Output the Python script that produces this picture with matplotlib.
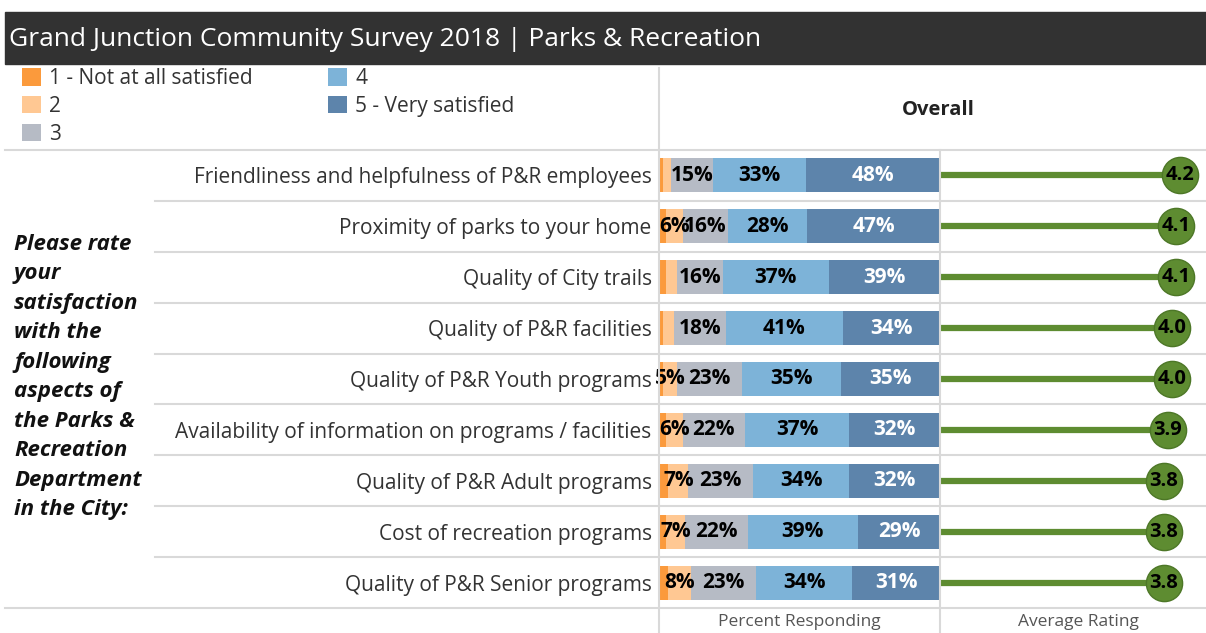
import matplotlib
matplotlib.use("Agg")
import matplotlib.pyplot as plt
from matplotlib.patches import Rectangle
from matplotlib.lines import Line2D

plt.rcParams['font.family'] = ['Open Sans', 'DejaVu Sans']

# data
items = [
    'Friendliness and helpfulness of P&R employees',
    'Proximity of parks to your home',
    'Quality of City trails',
    'Quality of P&R facilities',
    'Quality of P&R Youth programs',
    'Availability of information on programs / facilities',
    'Quality of P&R Adult programs',
    'Cost of recreation programs',
    'Quality of P&R Senior programs',
]
pct_1 = [1, 2, 2, 1, 1, 2, 3, 2, 3]
pct_2 = [3, 6, 4, 4, 5, 6, 7, 7, 8]
pct_3 = [15, 16, 16, 18, 23, 22, 23, 22, 23]
pct_4 = [33, 28, 37, 41, 35, 37, 34, 39, 34]
pct_5 = [48, 47, 39, 34, 35, 32, 32, 29, 31]
rating = [4.2, 4.1, 4.1, 4.0, 4.0, 3.9, 3.8, 3.8, 3.8]

legend_labels = ['1 - Not at all satisfied', '2', '3', '4', '5 - Very satisfied']
colors = ['#fb9a3c', '#ffc893', '#b6bbc5', '#7db3d8', '#5d84ab']
label_colors = ['black', 'black', 'black', 'black', 'white']

W, H = 1206, 633
fig = plt.figure(figsize=(W / 100, H / 100), dpi=100)


def fx(x):
    return x / W


def fy(y):
    return 1 - y / H


# title bar
fig.patches.append(Rectangle((fx(5), fy(64)), fx(1201), 52 / H, transform=fig.transFigure,
                             color='#323232', zorder=0))
fig.text(fx(9), fy(40), 'Grand Junction Community Survey 2018 | Parks & Recreation',
         color='white', fontsize=19, va='center', ha='left')

# grid lines of the table
grey = '#d9d9d9'
fig.add_artist(Line2D([fx(5), fx(1206)], [fy(150), fy(150)], color=grey, lw=1.5))
fig.add_artist(Line2D([fx(5), fx(1206)], [fy(608), fy(608)], color=grey, lw=1.5))
row_h = (608 - 150) / len(items)
for i in range(1, len(items)):
    yy = 150 + i * row_h
    fig.add_artist(Line2D([fx(155), fx(1206)], [fy(yy), fy(yy)], color=grey, lw=1.5))
fig.add_artist(Line2D([fx(659), fx(659)], [fy(68), fy(633)], color=grey, lw=1.5))
fig.add_artist(Line2D([fx(940), fx(940)], [fy(150), fy(633)], color=grey, lw=1.5))

# stacked bars (each row scaled to its total so the bar fills 100%)
ax = fig.add_axes([fx(660), fy(608), fx(280), 458 / H])
ypos = list(range(len(items)))
series = [pct_1, pct_2, pct_3, pct_4, pct_5]
totals = [sum(vals) for vals in zip(*series)]
left = [0] * len(items)
for vals, col, lab, tcol in zip(series, colors, legend_labels, label_colors):
    widths = [v / t * 100 for v, t in zip(vals, totals)]
    bars = ax.barh(ypos, widths, left=left, height=0.67, color=col, label=lab)
    for b, v in zip(bars, vals):
        if v >= 5:
            ax.text(b.get_x() + b.get_width() / 2, b.get_y() + b.get_height() / 2,
                    f'{v}%', ha='center', va='center', color=tcol,
                    fontsize=15, fontweight='bold')
    left = [l + w for l, w in zip(left, widths)]

ax.set_xlim(0, 100)
ax.set_ylim(len(items) - 0.5, -0.5)
ax.set_yticks(ypos)
ax.set_yticklabels(items, fontsize=15, color='#333333')
ax.tick_params(axis='y', length=0, pad=6)
ax.set_xticks([])
for s in ax.spines.values():
    s.set_visible(False)
ax.patch.set_alpha(0)

# average rating lollipops
ax2 = fig.add_axes([fx(940), fy(608), fx(266), 458 / H])
lo = -1.8
ax2.set_xlim(lo, 4.85)
ax2.set_ylim(len(items) - 0.5, -0.5)
green = '#5e8c31'
ax2.hlines(ypos, lo, rating, color=green, lw=4.5, zorder=2)
ax2.scatter(rating, ypos, s=680, color=green, edgecolor='#4d7727', linewidth=1, zorder=3)
for y, r in zip(ypos, rating):
    ax2.text(r, y, f'{r:.1f}', ha='center', va='center', fontsize=14.5,
             fontweight='bold', color='black', zorder=4)
ax2.axis('off')

# legend
fig.legend(handles=ax.containers, labels=legend_labels, ncol=2, loc='upper left',
           bbox_to_anchor=(fx(16), fy(62)), frameon=False, fontsize=15,
           handlelength=0.9, handleheight=0.9, handletextpad=0.4,
           labelspacing=0.32, columnspacing=3.6, labelcolor='#333333',
           borderaxespad=0, borderpad=0.3)

# headers and footers
fig.text(fx(938), fy(110), 'Overall', fontsize=14.5, fontweight='bold', ha='center',
         va='center', color='#222222')
fig.text(fx(799), fy(614), 'Percent Responding', fontsize=12.5, ha='center', va='top',
         color='#555555')
fig.text(fx(1078), fy(614), 'Average Rating', fontsize=12.5, ha='center', va='top',
         color='#555555')

fig.text(fx(14), fy(377),
         'Please rate\nyour\nsatisfaction\nwith the\nfollowing\naspects of\n'
         'the Parks &\nRecreation\nDepartment\nin the City:',
         fontsize=16, fontweight='bold', fontstyle='italic', ha='left', va='center',
         linespacing=1.53, color='#111111')

fig.savefig('out.png', dpi=100)
